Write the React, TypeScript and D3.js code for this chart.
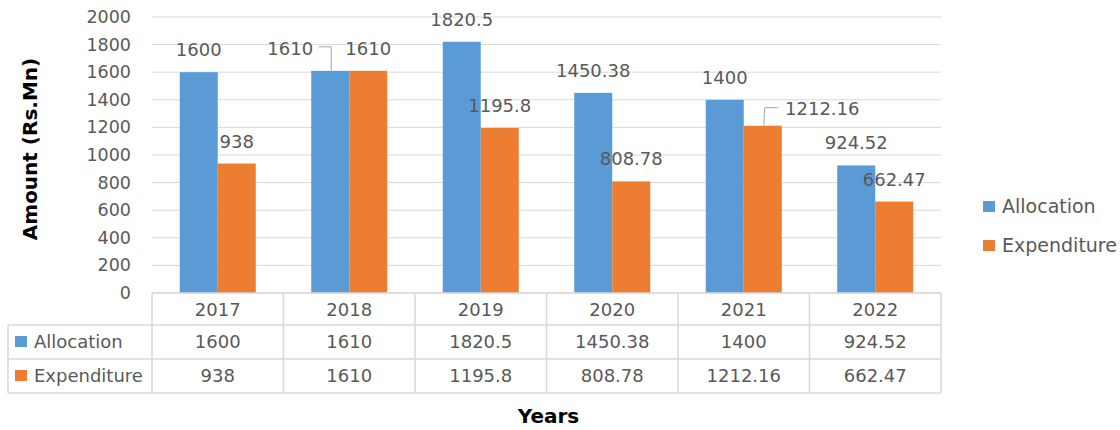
import React from "react";
import * as d3 from "d3";

const years = ["2017", "2018", "2019", "2020", "2021", "2022"];
const allocation = [1600, 1610, 1820.5, 1450.38, 1400, 924.52];
const expenditure = [938, 1610, 1195.8, 808.78, 1212.16, 662.47];
const allocationLabels = ["1600", "1610", "1820.5", "1450.38", "1400", "924.52"];
const expenditureLabels = ["938", "1610", "1195.8", "808.78", "1212.16", "662.47"];
const yTicks = [0, 200, 400, 600, 800, 1000, 1200, 1400, 1600, 1800, 2000];
const seriesNames = ["Allocation", "Expenditure"];

const W = 1120;
const H = 430;
const BLUE = "#5B9BD5";
const ORANGE = "#ED7D31";
const TEXT = "#595959";
const GRID = "#D9D9D9";
const FONT = "'DejaVu Sans', sans-serif";

// label displacement (layout only) for labels that were dragged off their default spot
const moved: Record<string, { dx: number; dy: number; side: "left" | "right" }> = {
  "a-1": { dx: -40, dy: 0, side: "left" },
  "e-4": { dx: 59.5, dy: 5, side: "right" },
};

export default function App() {
  const x0 = d3.scaleBand<string>().domain(years).range([152, 941]).paddingInner(0).paddingOuter(0);
  const x1 = d3.scaleBand<string>().domain(seriesNames).range([0, x0.bandwidth()]).paddingInner(0).paddingOuter(0.73);
  const y = d3.scaleLinear().domain([0, 2000]).range([293, 17]);

  const series = [
    { key: "a", name: "Allocation", values: allocation, labels: allocationLabels, color: BLUE },
    { key: "e", name: "Expenditure", values: expenditure, labels: expenditureLabels, color: ORANGE },
  ];

  const tableLeft = 8;
  const tableRight = 941;
  const rowY = [293, 325, 359, 393];
  const bw = x1.bandwidth();

  return (
    <svg width={W} height={H} style={{ position: "absolute", left: 0, top: 0, background: "#fff" }} fontFamily={FONT}>
      {/* grid */}
      {yTicks.map((t) => (
        <line key={"g" + t} x1={152} x2={941} y1={y(t)} y2={y(t)} stroke={GRID} strokeWidth={1} />
      ))}
      {yTicks.map((t) => (
        <text key={"t" + t} x={131} y={y(t) + 6} textAnchor="end" fontSize={17.5} fill={TEXT}>
          {t}
        </text>
      ))}
      {/* bars */}
      {series.map((s) =>
        years.map((yr, i) => (
          <rect
            key={s.key + yr}
            x={x0(yr)! + x1(s.name)!}
            y={y(s.values[i])}
            width={bw}
            height={y(0) - y(s.values[i])}
            fill={s.color}
          />
        ))
      )}
      {/* data labels */}
      {series.map((s) =>
        years.map((yr, i) => {
          const cx = x0(yr)! + x1(s.name)! + bw / 2;
          const top = y(s.values[i]);
          const m = moved[s.key + "-" + i];
          const lx = cx + (m ? m.dx : 0);
          const ly = top - 16 + (m ? m.dy : 0);
          const tw = s.labels[i].length * 11.2;
          return (
            <g key={"l" + s.key + yr}>
              {m && m.side === "left" && (
                <polyline
                  points={`${cx + 1},${top} ${cx + 1},${ly - 8} ${lx + tw / 2 + 6},${ly - 8}`}
                  fill="none"
                  stroke="#A6A6A6"
                  strokeWidth={1}
                />
              )}
              {m && m.side === "right" && (
                <polyline
                  points={`${cx + 1},${top} ${cx + 2},${ly - 7} ${lx - tw / 2 - 5},${ly - 7}`}
                  fill="none"
                  stroke="#A6A6A6"
                  strokeWidth={1}
                />
              )}
              <text x={lx} y={ly} textAnchor="middle" fontSize={18} fill={TEXT}>
                {s.labels[i]}
              </text>
            </g>
          );
        })
      )}
      {/* data table */}
      <g stroke={GRID} strokeWidth={1.5} fill="none">
        <line x1={152} x2={tableRight} y1={rowY[0]} y2={rowY[0]} />
        {rowY.slice(1).map((r) => (
          <line key={"r" + r} x1={tableLeft} x2={tableRight} y1={r} y2={r} />
        ))}
        <line x1={tableLeft} x2={tableLeft} y1={rowY[1]} y2={rowY[3]} />
        {years.map((yr) => (
          <line key={"v" + yr} x1={x0(yr)!} x2={x0(yr)!} y1={rowY[0]} y2={rowY[3]} />
        ))}
        <line x1={tableRight} x2={tableRight} y1={rowY[0]} y2={rowY[3]} />
      </g>
      {years.map((yr) => (
        <text key={"h" + yr} x={x0(yr)! + x0.bandwidth() / 2} y={316} textAnchor="middle" fontSize={18} fill={TEXT}>
          {yr}
        </text>
      ))}
      {series.map((s, si) => (
        <g key={"row" + s.key}>
          <rect x={15} y={336 + si * 34} width={12} height={11} fill={s.color} />
          <text x={34} y={348 + si * 34} fontSize={18} fill={TEXT}>
            {s.name}
          </text>
          {years.map((yr, i) => (
            <text
              key={"c" + s.key + yr}
              x={x0(yr)! + x0.bandwidth() / 2}
              y={348 + si * 34}
              textAnchor="middle"
              fontSize={18}
              fill={TEXT}
            >
              {s.labels[i]}
            </text>
          ))}
        </g>
      ))}
      {/* legend */}
      {series.map((s, si) => (
        <g key={"lg" + s.key}>
          <rect x={983} y={201 + si * 39} width={12} height={11} fill={s.color} />
          <text x={1002} y={213 + si * 39} fontSize={19} fill={TEXT}>
            {s.name}
          </text>
        </g>
      ))}
      {/* axis titles */}
      <text
        transform={`translate(37,149) rotate(-90)`}
        textAnchor="middle"
        fontSize={20}
        fontWeight="bold"
        fill="#000"
      >
        Amount (Rs.Mn)
      </text>
      <text x={548.5} y={423} textAnchor="middle" fontSize={20} fontWeight="bold" fill="#000">
        Years
      </text>
    </svg>
  );
}
